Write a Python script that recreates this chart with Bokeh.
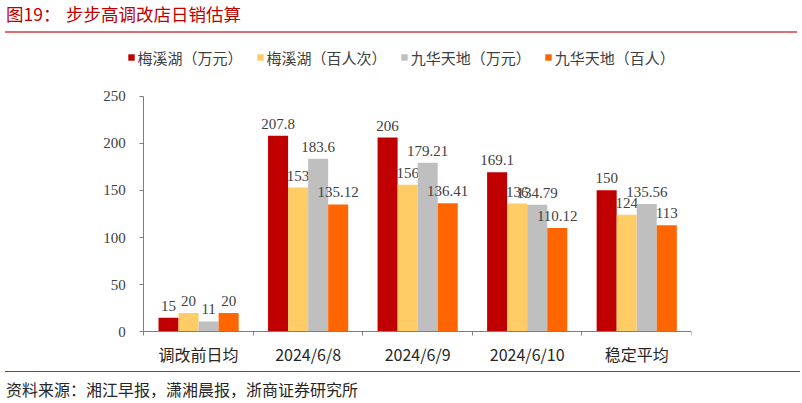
import numpy as np
from bokeh.plotting import figure
from bokeh.layouts import column
from bokeh.models import Range1d, FixedTicker, Legend, LegendItem, Div, LinearAxis
from bokeh.core.properties import value
from bokeh.embed import file_html
from bokeh.resources import INLINE

# ---------------- data ----------------
categories = ["调改前日均", "2024/6/8", "2024/6/9", "2024/6/10", "稳定平均"]
mxh_wan = [15, 207.8, 206, 169.1, 150]          # 梅溪湖（万元）
mxh_bairenci = [20, 153, 156, 136, 124]         # 梅溪湖（百人次）
jh_wan = [11, 183.6, 179.21, 134.79, 135.56]    # 九华天地（万元）
jh_bairen = [20, 135.12, 136.41, 110.12, 113]   # 九华天地（百人）
series_names = ["梅溪湖（万元）", "梅溪湖（百人次）", "九华天地（万元）", "九华天地（百人）"]
y_ticks = [0, 50, 100, 150, 200, 250]
title_prefix = "图19："
title_text = "步步高调改店日销估算"
source_text = "资料来源：湘江早报，潇湘晨报，浙商证券研究所"

colors = ["#C00000", "#FFCC66", "#BFBFBF", "#FF6600"]
serif = "Liberation Serif"
cjk = "Noto Sans CJK SC"
axis_grey = "#7F7F7F"

W = 802
H_TOP, H_MAIN, H_BOT = 40, 328, 35

# ---------------- title strip (HTML) ----------------
title_html = (
    f'<div style="position:relative;width:{W}px;height:{H_TOP}px;">'
    f'<span style="position:absolute;left:6px;top:3px;font-family:\'{cjk}\';'
    f'font-size:17.5px;line-height:22px;color:#C00000;white-space:nowrap;">{title_prefix}</span>'
    f'<span style="position:absolute;left:66px;top:3px;font-family:\'{cjk}\';'
    f'font-size:17.5px;line-height:22px;color:#C00000;white-space:nowrap;">{title_text}</span>'
    f'<div style="position:absolute;left:5px;width:792px;top:31px;height:1.5px;'
    f'background:#E07070;"></div></div>'
)
top = Div(text=title_html, width=W, height=H_TOP, margin=0)

# ---------------- main chart ----------------
# The frame is a little larger than the value area so that the pinned axes and
# the legend are drawn inside it; the axes are bounded to the data area.
n = len(categories)
p = figure(width=W, height=H_MAIN, output_backend="svg", toolbar_location=None,
           x_range=Range1d(-0.3955, n), y_range=Range1d(-8.14, 303.57),
           min_border_left=100, min_border_right=111, min_border_top=5,
           min_border_bottom=28)
p.outline_line_color = None
p.xgrid.grid_line_color = None
p.ygrid.grid_line_color = None
p.background_fill_color = "white"
p.border_fill_color = "white"

bw = 0.183
all_series = [mxh_wan, mxh_bairenci, jh_wan, jh_bairen]
centers = np.arange(n) + 0.5
items = []
for k, (vals, col, name) in enumerate(zip(all_series, colors, series_names)):
    xs = centers + (k - 1.5) * bw
    r = p.vbar(x=xs, top=vals, width=bw, bottom=0, fill_color=col, line_color=None)
    items.append(LegendItem(label=name, renderers=[r]))
    p.text(x=xs, y=vals, text=[f"{v:g}" for v in vals],
           text_font=value(serif), text_font_size="15px", text_color="#404040",
           text_align="center", text_baseline="alphabetic", y_offset=-12)

# category labels (axis in the bottom panel, labels only)
ax = p.xaxis[0]
ax.ticker = FixedTicker(ticks=list(centers), minor_ticks=[])
ax.major_label_overrides = {float(c): cat for c, cat in zip(centers, categories)}
ax.major_tick_out = 0
ax.major_tick_in = 0
ax.minor_tick_out = 0
ax.minor_tick_in = 0
ax.axis_line_color = None
ax.major_label_text_font = cjk
ax.major_label_text_font_size = "16px"
ax.major_label_text_color = "#262626"
ax.major_label_standoff = 2

# category axis line with boundary ticks, pinned at value 0
ax0 = LinearAxis(fixed_location=0, bounds=(0, n),
                 ticker=FixedTicker(ticks=[], minor_ticks=list(range(n + 1))),
                 axis_line_color=axis_grey, major_tick_in=0, major_tick_out=0,
                 minor_tick_in=4, minor_tick_out=0, minor_tick_line_color=axis_grey,
                 major_label_text_font_size="0px")
p.add_layout(ax0, "above")

# value axis pinned at the first category boundary
ay = p.yaxis[0]
ay.fixed_location = 0
ay.bounds = (y_ticks[0], y_ticks[-1])
ay.ticker = FixedTicker(ticks=y_ticks, minor_ticks=[])
ay.major_tick_out = 4
ay.major_tick_in = 0
ay.major_tick_line_color = axis_grey
ay.axis_line_color = axis_grey
ay.major_label_text_font = serif
ay.major_label_text_font_size = "15px"
ay.major_label_text_color = "#404040"
ay.major_label_standoff = 14

legend = Legend(items=items, orientation="horizontal", location=(26.6, 270.7),
                glyph_width=8, glyph_height=8, label_standoff=3, spacing=13,
                padding=0, margin=0, border_line_color=None,
                background_fill_alpha=0, label_text_font=cjk,
                label_text_font_size="15px", label_text_color="#404040",
                label_height=22)
p.add_layout(legend, "center")

# ---------------- source strip (HTML) ----------------
src_html = (
    f'<div style="position:relative;width:{W}px;height:{H_BOT}px;">'
    f'<div style="position:absolute;left:5px;width:795px;top:2.5px;height:1.5px;'
    f'background:#D02020;"></div>'
    f'<span style="position:absolute;left:6px;top:10px;font-family:\'{cjk}\';'
    f'font-size:16px;line-height:22px;color:#262626;white-space:nowrap;">{source_text}</span>'
    f'</div>'
)
bot = Div(text=src_html, width=W, height=H_BOT, margin=0)

layout = column(top, p, bot, spacing=0)
open("out.html", "w").write(file_html(layout, INLINE))
